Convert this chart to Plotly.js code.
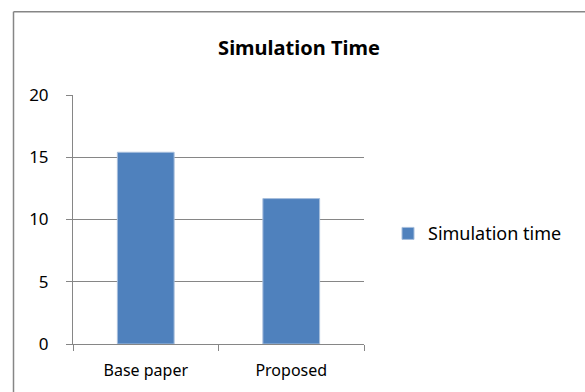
<!DOCTYPE html>
<html>
<head>
<meta charset="utf-8">
<script src="https://cdn.plot.ly/plotly-3.0.1.min.js"></script>
<style>
  html, body { margin: 0; padding: 0; background: #fff; }
  #chart { width: 585px; height: 392px; }
</style>
</head>
<body>
<div id="chart"></div>
<script>
// Simulation time per method
const categories = ["Base paper", "Proposed"];
const simulationTime = [15.4, 11.68];
const seriesName = "Simulation time";
const yTickValues = [0, 5, 10, 15, 20];

const gridGray = "#868686";
const barBlue = "#4F81BD";
const fontFamily = "'Noto Sans', 'Open Sans', sans-serif";

// plot area in pixels, used to place the outer chart frame in paper units
const L = 73, R = 221, T = 95, B = 47.5;
const W = 585 - L - R, H = 392 - T - B;
const px = x => (x - L) / W;
const py = y => (392 - B - y) / H;

const trace = {
  type: "bar",
  x: categories,
  y: simulationTime,
  name: seriesName,
  width: 0.39,
  marker: { color: barBlue, line: { color: "#a7bedc", width: 1 } },
  showlegend: true,
  hoverinfo: "x+y"
};

const layout = {
  width: 585,
  height: 392,
  margin: { l: L, r: R, t: T, b: B, pad: 0 },
  paper_bgcolor: "#fff",
  plot_bgcolor: "#fff",
  font: { family: fontFamily, size: 16, color: "#000" },
  title: {
    text: "<b>Simulation Time</b>",
    font: { family: fontFamily, size: 20, color: "#000" },
    x: 299 / 585, xanchor: "center",
    y: 1 - 48 / 392, yanchor: "middle"
  },
  xaxis: {
    type: "category",
    range: [-0.5, 1.5],
    showgrid: false,
    showline: true,
    linecolor: gridGray,
    linewidth: 1,
    ticks: "outside",
    tickson: "boundaries",
    ticklen: 6,
    tickcolor: gridGray,
    tickfont: { size: 16 },
    ticklabelstandoff: 12,
    zeroline: false,
    fixedrange: true
  },
  yaxis: {
    range: [0, 20],
    tickvals: yTickValues,
    showgrid: true,
    gridcolor: gridGray,
    gridwidth: 1,
    showline: true,
    linecolor: gridGray,
    ticks: "outside",
    ticklen: 6,
    tickcolor: gridGray,
    tickfont: { size: 17 },
    ticklabelstandoff: 14,
    zeroline: false,
    fixedrange: true
  },
  showlegend: true,
  legend: {
    x: px(388), xanchor: "left",
    y: py(234), yanchor: "middle",
    bgcolor: "rgba(0,0,0,0)",
    font: { size: 18 },
    itemwidth: 30
  },
  shapes: [
    {
      type: "line", xref: "paper", yref: "paper",
      x0: px(13.5), x1: px(13.5), y0: py(11.5), y1: py(400),
      line: { color: gridGray, width: 1.5 }
    },
    {
      type: "line", xref: "paper", yref: "paper",
      x0: px(13.5), x1: px(600), y0: py(11.5), y1: py(11.5),
      line: { color: gridGray, width: 1.5 }
    }
  ]
};

Plotly.newPlot("chart", [trace], layout, { displayModeBar: false, staticPlot: true });
</script>
</body>
</html>
